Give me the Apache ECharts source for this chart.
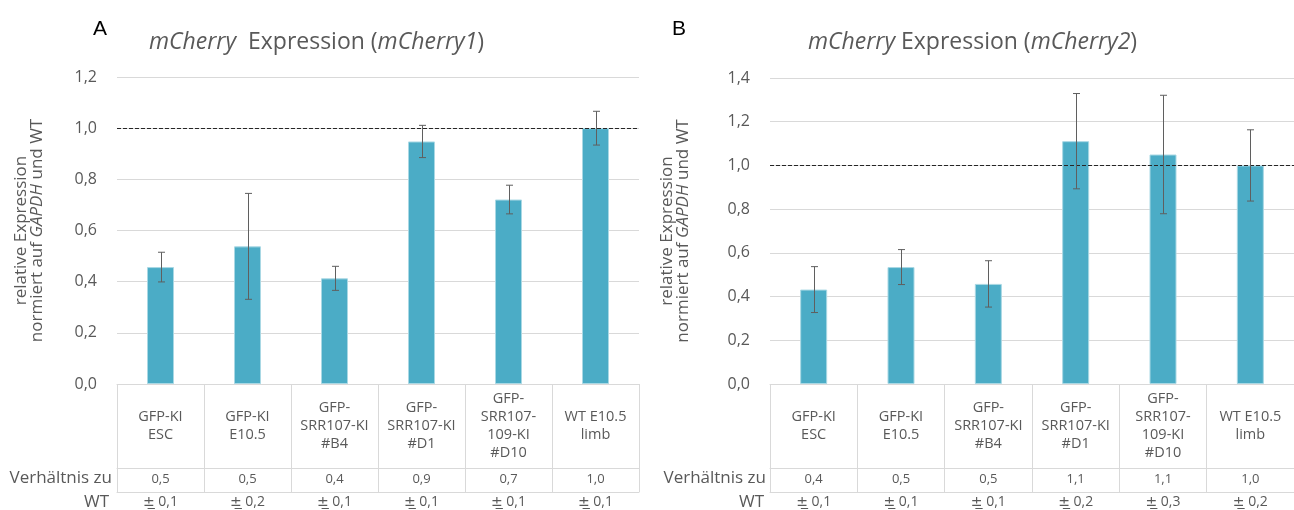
<!DOCTYPE html>
<html>
<head>
  <meta charset="utf-8">
  <title>mCherry Expression</title>
  <script src="https://cdn.jsdelivr.net/npm/echarts@6/dist/echarts.min.js"></script>
  <style>
    html, body { margin: 0; padding: 0; background: #fff; }
  </style>
</head>
<body>
<div id="main" style="width: 1294px;height:510px;"></div>
<script type="text/javascript">
  // Kategorien (Tabellenkopf)
  var categories = ['GFP-KI\nESC', 'GFP-KI\nE10.5', 'GFP-\nSRR107-KI\n#B4', 'GFP-\nSRR107-KI\n#D1', 'GFP-\nSRR107-\n109-KI\n#D10', 'WT E10.5\nlimb'];

  // mCherry1 (A)
  var mean1 = [0.457, 0.538, 0.413, 0.948, 0.721, 1.0];
  var err1 = [0.058, 0.207, 0.047, 0.063, 0.056, 0.066];
  var ratio1 = ['0,5', '0,5', '0,4', '0,9', '0,7', '1,0'];
  var sd1 = ['0,1', '0,2', '0,1', '0,1', '0,1', '0,1'];

  // mCherry2 (B)
  var mean2 = [0.432, 0.535, 0.458, 1.111, 1.050, 1.0];
  var err2 = [0.105, 0.080, 0.106, 0.218, 0.271, 0.163];
  var ratio2 = ['0,4', '0,5', '0,5', '1,1', '1,1', '1,0'];
  var sd2 = ['0,1', '0,1', '0,1', '0,2', '0,3', '0,2'];

  var yMax1 = 1.2, yMax2 = 1.4;

  var FONT = 'Open Sans';
  var GREY = '#595959';
  var LINE = '#d9d9d9';

  var myChart = echarts.init(document.getElementById('main'));

  function comma(v) { return v.toFixed(1).replace('.', ','); }

  function tableAxes(grid) {
    return [
      { // Kopfzeile mit Kategorien
        type: 'category', gridIndex: grid, position: 'bottom', data: categories,
        axisLine: { lineStyle: { color: LINE } },
        axisTick: { show: true, length: 108, interval: 0, lineStyle: { color: LINE } },
        axisLabel: { interval: 0, margin: 42, verticalAlign: 'middle', lineHeight: 18,
          fontFamily: FONT, fontSize: 14.5, color: GREY }
      },
      { // Verhaeltnis
        type: 'category', gridIndex: grid, position: 'bottom', offset: 84,
        data: grid === 0 ? ratio1 : ratio2,
        axisLine: { lineStyle: { color: LINE } },
        axisTick: { show: false },
        axisLabel: { interval: 0, margin: 5, fontFamily: FONT, fontSize: 13, color: GREY }
      },
      { // +/- SD
        type: 'category', gridIndex: grid, position: 'bottom', offset: 108,
        data: grid === 0 ? sd1 : sd2,
        axisLine: { lineStyle: { color: LINE } },
        axisTick: { show: false },
        axisLabel: { interval: 0, margin: 3, fontFamily: FONT, fontSize: 14, color: GREY,
          formatter: function (v) { return '{pm|±\u0332} ' + v; },
          rich: { pm: { fontFamily: 'DejaVu Sans', fontSize: 14, color: GREY } } }
      }
    ];
  }

  function valueAxis(grid, max, gap) {
    return {
      type: 'value', gridIndex: grid, min: 0, max: max, interval: 0.2,
      axisLine: { show: false }, axisTick: { show: false },
      splitLine: { lineStyle: { color: LINE } },
      axisLabel: { margin: 20, fontFamily: FONT, fontSize: 16, color: GREY, formatter: comma },
      name: 'relative Expression\nnormiert auf {i|GAPDH} und WT',
      nameLocation: 'middle', nameRotate: 90, nameGap: gap,
      nameTextStyle: { fontFamily: FONT, fontSize: 17, color: GREY, lineHeight: 16,
        rich: { i: { fontStyle: 'italic', fontFamily: FONT, fontSize: 17, color: GREY, lineHeight: 16 } } }
    };
  }

  function barSeries(xi, yi, data) {
    return {
      type: 'bar', xAxisIndex: xi, yAxisIndex: yi, data: data, barWidth: 27,
      itemStyle: { color: '#4bacc6', borderColor: '#a9d8e4', borderWidth: 1 },
      markLine: {
        silent: true, symbol: 'none', label: { show: false },
        lineStyle: { type: 'dashed', color: '#262626', width: 1 },
        data: [{ yAxis: 1 }]
      }
    };
  }

  function errSeries(xi, yi, means, errs) {
    return {
      type: 'custom', xAxisIndex: xi, yAxisIndex: yi, z: 10,
      encode: { x: 0, y: [1, 2] },
      data: means.map(function (m, i) { return [i, m - errs[i], m + errs[i]]; }),
      renderItem: function (params, api) {
        var lo = api.coord([api.value(0), api.value(1)]);
        var hi = api.coord([api.value(0), api.value(2)]);
        var x = Math.round(lo[0]) + 0.5, c = 3.5;
        var st = { stroke: '#5f5f5f', lineWidth: 1 };
        return {
          type: 'group', children: [
            { type: 'line', shape: { x1: x, y1: lo[1], x2: x, y2: hi[1] }, style: st },
            { type: 'line', shape: { x1: x - c, y1: lo[1], x2: x + c, y2: lo[1] }, style: st },
            { type: 'line', shape: { x1: x - c, y1: hi[1], x2: x + c, y2: hi[1] }, style: st }
          ]
        };
      }
    };
  }

  var titleStyle = { fontFamily: FONT, fontSize: 23, fontWeight: 'normal', color: GREY,
    rich: { i: { fontFamily: FONT, fontSize: 23, fontStyle: 'italic', color: GREY } } };
  var letterStyle = { fontFamily: 'Liberation Sans', fontSize: 21, fontWeight: 'normal', color: '#000' };

  var option = {
    animation: false,
    title: [
      { text: 'A', left: 88, top: 14, textStyle: letterStyle },
      { text: '{i|mCherry}  Expression ({i|mCherry1})', left: 144, top: 26, textStyle: titleStyle },
      { text: 'B', left: 667, top: 14, textStyle: letterStyle },
      { text: '{i|mCherry} Expression ({i|mCherry2})', left: 803, top: 26, textStyle: titleStyle }
    ],
    grid: [
      { left: 117, top: 77, width: 522, height: 307 },
      { left: 770, top: 78, width: 525, height: 306 }
    ],
    xAxis: tableAxes(0).concat(tableAxes(1)),
    yAxis: [valueAxis(0, yMax1, 72), valueAxis(1, yMax2, 79)],
    series: [
      barSeries(0, 0, mean1),
      errSeries(0, 0, mean1, err1),
      barSeries(3, 1, mean2),
      errSeries(3, 1, mean2, err2)
    ],
    graphic: [
      { type: 'text', right: 1294 - 112, top: 470, style: { text: 'Verhältnis zu', font: '17px "Open Sans"', fill: GREY } },
      { type: 'text', left: 84, top: 494, style: { text: 'WT', font: '17px "Open Sans"', fill: GREY } },
      { type: 'text', right: 1294 - 766, top: 470, style: { text: 'Verhältnis zu', font: '17px "Open Sans"', fill: GREY } },
      { type: 'text', left: 739, top: 494, style: { text: 'WT', font: '17px "Open Sans"', fill: GREY } }
    ]
  };

  option && myChart.setOption(option);
</script>
</body>
</html>
